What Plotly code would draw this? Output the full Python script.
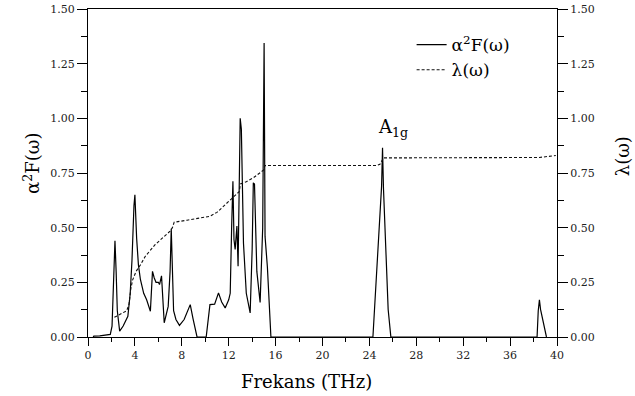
import plotly.graph_objects as go

# alpha^2 F(omega) spectral function (frequency THz, value)
a2f_freq = [0.44, 0.5, 1.0, 1.5, 1.9, 2.05, 2.15, 2.3, 2.4, 2.5, 2.7, 3.0, 3.4, 3.6, 3.75,
            3.85, 3.92, 4.0, 4.05, 4.15, 4.3, 4.47, 4.75, 5.0, 5.32, 5.5, 5.65, 5.8, 6.0,
            6.1, 6.27, 6.5, 6.84, 7.0, 7.1, 7.2, 7.3, 7.5, 7.8, 8.2, 8.72, 8.96, 9.3,
            10.08, 10.4, 10.8, 11.13, 11.4, 11.7, 12.0, 12.13, 12.25, 12.36, 12.45, 12.55,
            12.7, 12.8, 12.98, 13.08, 13.26, 13.5, 13.83, 14.0, 14.1, 14.2, 14.4, 14.68,
            14.9, 15.02, 15.1, 15.3, 15.6, 24.3, 25.04, 25.12, 25.2, 25.6, 25.83,
            38.3, 38.4, 38.5, 38.6, 38.8, 39.1]
a2f_vals = [0.0, 0.004, 0.005, 0.007, 0.012, 0.05, 0.2, 0.44, 0.3, 0.12, 0.027, 0.05, 0.095, 0.2, 0.35,
            0.55, 0.60, 0.65, 0.55, 0.45, 0.33, 0.263, 0.2, 0.17, 0.118, 0.30, 0.27, 0.25, 0.25,
            0.24, 0.28, 0.065, 0.14, 0.3, 0.495, 0.3, 0.12, 0.08, 0.053, 0.08, 0.148, 0.083, 0.0,
            0.0, 0.148, 0.15, 0.202, 0.16, 0.133, 0.17, 0.2, 0.5, 0.712, 0.446, 0.4,
            0.507, 0.324, 1.0, 0.95, 0.43, 0.2, 0.11, 0.4, 0.705, 0.70, 0.3, 0.158,
            0.5, 1.345, 0.46, 0.32, 0.0, 0.0, 0.69, 0.865, 0.68, 0.126, 0.0,
            0.0, 0.12, 0.17, 0.125, 0.072, 0.0]

# lambda(omega) cumulative coupling
lam_freq = [2.25, 2.6, 3.3, 3.5, 3.65, 3.8, 4.1, 4.47, 4.9, 5.74, 6.5, 7.0, 7.2, 7.35, 8.44,
            10.4, 11.0, 11.56, 12.27, 12.6, 12.9, 13.0, 13.5, 14.1, 14.96, 15.1, 24.6, 24.9,
            25.2, 38.5, 39.9]
lam_vals = [0.09, 0.10, 0.12, 0.15, 0.22, 0.26, 0.30, 0.33, 0.37, 0.423, 0.46, 0.484, 0.50, 0.525, 0.534,
            0.552, 0.57, 0.598, 0.63, 0.65, 0.665, 0.70, 0.71, 0.728, 0.763, 0.784, 0.784, 0.79,
            0.819, 0.821, 0.83]

x_ticks = list(range(0, 41, 4))
y_ticks = [0.0, 0.25, 0.5, 0.75, 1.0, 1.25, 1.5]

FONT = "DejaVu Serif"
TITLE_SIZE = 18

fig = go.Figure()
fig.add_trace(go.Scatter(x=a2f_freq, y=a2f_vals, mode="lines",
                         name="α<sup>2</sup>F(ω)",
                         line=dict(color="black", width=1.2)))
fig.add_trace(go.Scatter(x=lam_freq, y=lam_vals, mode="lines", yaxis="y2",
                         name="λ(ω)",
                         line=dict(color="#111111", width=1.1, dash="3px,2px")))

fig.add_annotation(x=26.0, y=0.958, xref="x", yref="y", text="A<sub>1g</sub>",
                   showarrow=False, font=dict(family=FONT, size=18, color="black"))

# axis titles placed as annotations to match the reference positions
fig.add_annotation(x=0.4665, y=-0.137, xref="paper", yref="paper", text="Frekans (THz)",
                   showarrow=False, xanchor="center", yanchor="middle",
                   font=dict(family=FONT, size=TITLE_SIZE, color="black"))
fig.add_annotation(x=-0.12, y=0.53, xref="paper", yref="paper", text="α<sup>2</sup>F(ω)",
                   showarrow=False, xanchor="center", yanchor="middle", textangle=-90,
                   font=dict(family=FONT, size=TITLE_SIZE, color="black"))
fig.add_annotation(x=1.14, y=0.55, xref="paper", yref="paper", text="λ(ω)",
                   showarrow=False, xanchor="center", yanchor="middle", textangle=-90,
                   font=dict(family=FONT, size=TITLE_SIZE, color="black"))

axis_common = dict(showline=True, linecolor="black", linewidth=1, ticks="outside",
                   tickcolor="black", showgrid=False, zeroline=False, automargin=False,
                   tickfont=dict(family=FONT, size=11, color="#222222"))

fig.update_layout(
    width=635, height=396,
    margin=dict(l=88, r=78, t=9, b=59),
    paper_bgcolor="white", plot_bgcolor="white",
    font=dict(family=FONT, color="black"),
    xaxis=dict(range=[0, 40], tickvals=x_ticks, ticklen=8, mirror=True,
               minor=dict(dtick=2, ticklen=4, tickcolor="black", ticks="outside"),
               **axis_common),
    yaxis=dict(range=[0, 1.5], tickvals=y_ticks, tickformat=".2f", ticklen=10,
               minor=dict(dtick=0.125, ticklen=6, tickcolor="black", ticks="outside"),
               **axis_common),
    yaxis2=dict(range=[0, 1.5], tickvals=y_ticks, tickformat=".2f", ticklen=10,
                overlaying="y", side="right",
                minor=dict(dtick=0.125, ticklen=6, tickcolor="black", ticks="outside"),
                **axis_common),
    legend=dict(x=0.69, y=0.945, xanchor="left", yanchor="top",
                bgcolor="rgba(0,0,0,0)", font=dict(family=FONT, size=17),
                tracegroupgap=0, itemwidth=30),
    showlegend=True,
)

fig.write_html("out.html")
